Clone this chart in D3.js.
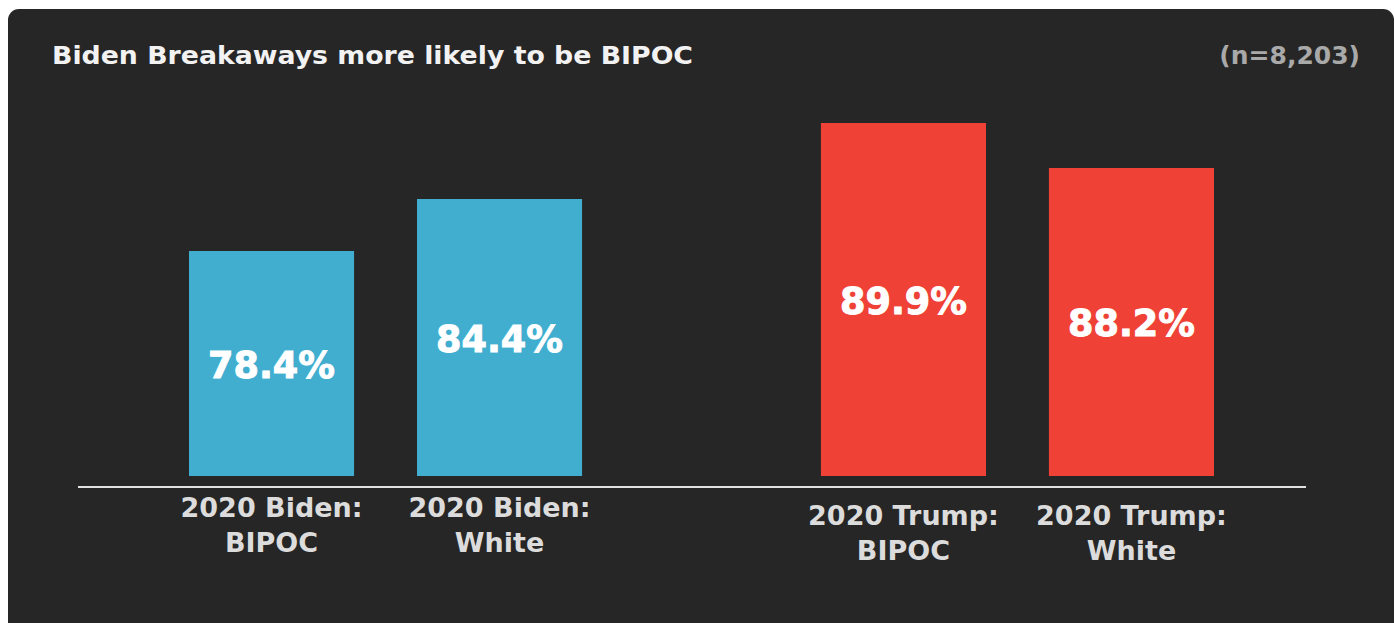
<!DOCTYPE html>
<html>
<head>
<meta charset="utf-8">
<script src="https://cdn.jsdelivr.net/npm/d3@7"></script>
<style>
  html, body { margin: 0; padding: 0; background: #ffffff; }
  svg { display: block; }
</style>
</head>
<body>
<svg id="chart" width="1395" height="623"></svg>
<script>
// Vote groups and breakdowns
const groups = ["2020 Biden", "2020 Trump"];
const subgroups = ["BIPOC", "White"];
// Share (%) for each group, in subgroup order
const bidenValues = [78.4, 84.4];
const trumpValues = [89.9, 88.2];
const titleText = "Biden Breakaways more likely to be BIPOC";
const sampleText = "(n=8,203)";

const rows = [
  ...subgroups.map((s, i) => ({ group: groups[0], sub: s, value: bidenValues[i] })),
  ...subgroups.map((s, i) => ({ group: groups[1], sub: s, value: trumpValues[i] }))
];

const svg = d3.select("#chart");

const FONT = "'DejaVu Sans', sans-serif";
const colors = { "2020 Biden": "#41aed0", "2020 Trump": "#ef4136" };

// Card
svg.append("rect")
  .attr("x", 8).attr("y", 9)
  .attr("width", 1386).attr("height", 626)
  .attr("rx", 11).attr("ry", 11)
  .attr("fill", "#262626");

// Header
svg.append("text")
  .attr("x", 52).attr("y", 64)
  .attr("fill", "#f2f2f2")
  .attr("font-family", FONT)
  .attr("font-weight", 700)
  .attr("font-size", 24)
  .attr("textLength", 641)
  .attr("lengthAdjust", "spacingAndGlyphs")
  .text(titleText);

svg.append("text")
  .attr("x", 1360).attr("y", 64)
  .attr("text-anchor", "end")
  .attr("fill", "#a9a9a9")
  .attr("font-family", FONT)
  .attr("font-weight", 700)
  .attr("font-size", 25)
  .text(sampleText);

// Scales
const baseY = 476;
const x0 = d3.scaleBand().domain(groups).range([189, 1214]).paddingInner(0.378).paddingOuter(0);
const x1 = d3.scaleBand().domain(subgroups).range([0, x0.bandwidth()]).paddingInner(0.276).paddingOuter(0);

// Each vote group is drawn on its own value axis
const yScales = {
  "2020 Biden": d3.scaleLinear().domain([52.44, 84.4]).range([baseY, 199]),
  "2020 Trump": d3.scaleLinear().domain([76.56, 89.9]).range([baseY, 123])
};

const bar = svg.append("g").selectAll("g.bar")
  .data(rows)
  .join("g")
  .attr("class", "bar")
  .attr("transform", d => `translate(${x0(d.group) + x1(d.sub)},0)`);

bar.append("rect")
  .attr("x", 0)
  .attr("y", d => yScales[d.group](d.value))
  .attr("width", x1.bandwidth())
  .attr("height", d => baseY - yScales[d.group](d.value))
  .attr("fill", d => colors[d.group]);

bar.append("text")
  .attr("x", x1.bandwidth() / 2)
  .attr("y", d => (yScales[d.group](d.value) + baseY) / 2 + 14)
  .attr("text-anchor", "middle")
  .attr("fill", "#ffffff")
  .attr("stroke", "#ffffff")
  .attr("stroke-width", 1)
  .attr("font-family", FONT)
  .attr("font-weight", 700)
  .attr("font-size", 38)
  .attr("textLength", 127)
  .attr("lengthAdjust", "spacingAndGlyphs")
  .text(d => d.value.toFixed(1) + "%");

// Baseline rule
svg.append("line")
  .attr("x1", 78).attr("x2", 1306)
  .attr("y1", 487).attr("y2", 487)
  .attr("stroke", "#e2e2e2")
  .attr("stroke-width", 2);

// Category labels
const labelDrop = { "2020 Biden": 0, "2020 Trump": 8 };
const cat = bar.append("text")
  .attr("text-anchor", "middle")
  .attr("fill", "#dcdcdc")
  .attr("font-family", FONT)
  .attr("font-weight", 700)
  .attr("font-size", 27);

cat.append("tspan")
  .attr("x", x1.bandwidth() / 2)
  .attr("y", d => 517 + labelDrop[d.group])
  .text(d => d.group + ":");
cat.append("tspan")
  .attr("x", x1.bandwidth() / 2)
  .attr("y", d => 552 + labelDrop[d.group])
  .text(d => d.sub);
</script>
</body>
</html>
